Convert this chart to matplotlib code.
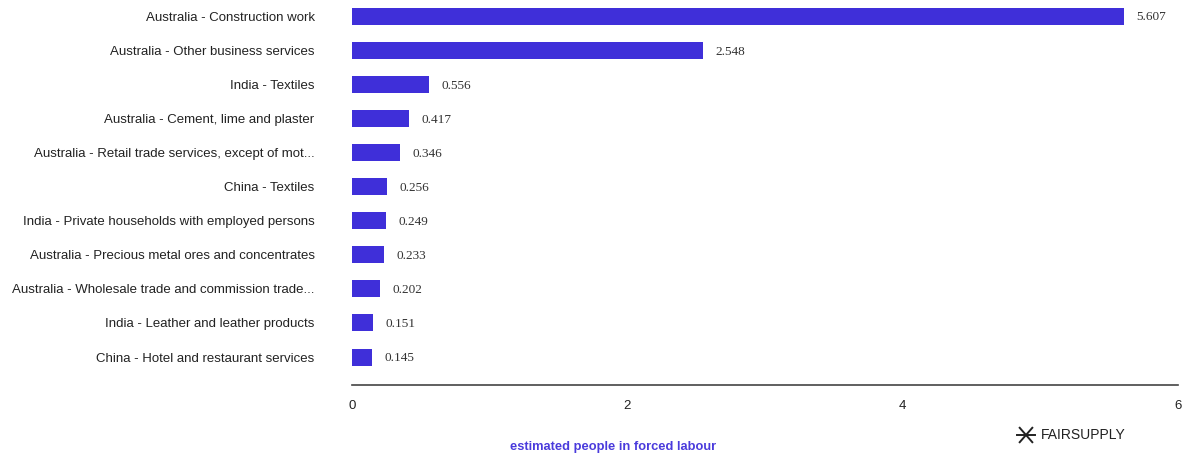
import matplotlib
matplotlib.use("Agg")
import matplotlib.pyplot as plt
from matplotlib.lines import Line2D

labels = [
    "Australia - Construction work",
    "Australia - Other business services",
    "India - Textiles",
    "Australia - Cement, lime and plaster",
    "Australia - Retail trade services, except of mot...",
    "China - Textiles",
    "India - Private households with employed persons",
    "Australia - Precious metal ores and concentrates",
    "Australia - Wholesale trade and commission trade...",
    "India - Leather and leather products",
    "China - Hotel and restaurant services",
]
values = [5.607, 2.548, 0.556, 0.417, 0.346, 0.256, 0.249, 0.233, 0.202, 0.151, 0.145]
xticks = [0, 2, 4, 6]

bar_color = "#3f2fd9"

fig = plt.figure(figsize=(11.84, 4.57), dpi=100)
ax = fig.add_axes([352 / 1184, 1 - 385 / 457, 826 / 1184, 385 / 457])

pos = list(range(len(labels)))
ax.barh(pos, values, height=0.5, color=bar_color)
ax.set_ylim(len(labels) - 1 + 0.82, -0.47)
ax.set_xlim(0, 6)

for p, v in zip(pos, values):
    ax.annotate(f"{v:.3f}", xy=(v, p), xytext=(9, -1), textcoords="offset points",
                va="center", ha="left", fontsize=9.5, color="#333333",
                family="Liberation Serif")

ax.set_yticks(pos)
ax.set_yticklabels(labels, fontsize=9.5, color="#222222", family="Liberation Sans")
ax.set_xticks(xticks)
ax.set_xticklabels([str(t) for t in xticks], fontsize=9.5, color="#222222",
                   family="Liberation Sans")
ax.tick_params(axis="y", length=0, pad=27)
ax.tick_params(axis="x", length=0, pad=11)

for s in ["top", "right", "left"]:
    ax.spines[s].set_visible(False)
ax.spines["bottom"].set_color("#444444")
ax.spines["bottom"].set_linewidth(1.2)

fig.text(613 / 1184, 1 - 447 / 457, "estimated people in forced labour", ha="center",
         va="center", fontsize=9.3, fontweight="bold", color="#4a3bdc",
         family="Liberation Sans")

# logo
cx, cy, r = 1026 / 1184, 1 - 435 / 457, 9
sx, sy = r / 1184, r / 457
for dx, dy in [(-1, 0), (-0.7, 0.8), (-0.7, -0.8)]:
    fig.add_artist(Line2D([cx + dx * sx, cx - dx * sx], [cy + dy * sy, cy - dy * sy],
                          color="#222222", lw=1.4, transform=fig.transFigure))
fig.text(1041 / 1184, cy, "FAIRSUPPLY", ha="left", va="center", fontsize=10,
         color="#222222", family="Liberation Sans")

fig.savefig("out.png", dpi=100)
